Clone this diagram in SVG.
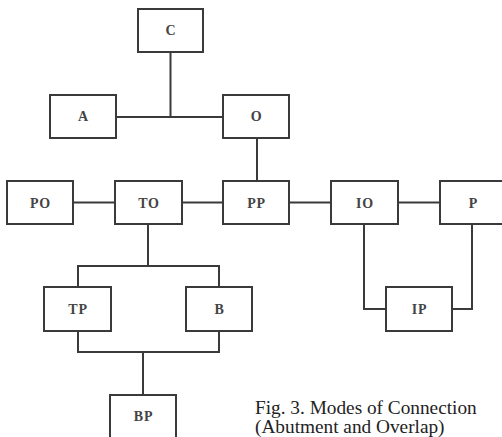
<svg xmlns="http://www.w3.org/2000/svg" width="502" height="437" viewBox="0 0 502 437">
<style>
.box{fill:#fff;stroke:#3a3a3a;stroke-width:2}
.lbl{font-family:"Liberation Serif",serif;font-size:14px;font-weight:bold;fill:#444;text-anchor:middle;letter-spacing:0.8px}
.ln{fill:none;stroke:#3a3a3a;stroke-width:2}
.cap{font-family:"Liberation Serif",serif;font-size:19.3px;fill:#222}
</style>
<rect width="502" height="437" fill="#fff"/>
<g id="connectors">
<path class="ln" d="M170.5 52V117M116 117H223"/>
<path class="ln" d="M257 138V181"/>
<path class="ln" d="M73 202.5H115M182 202.5H223M289 202.5H331M398 202.5H440"/>
<path class="ln" d="M148 224V266M78 287V266H219V287"/>
<path class="ln" d="M78 331V352H219V331M143 352V395"/>
<path class="ln" d="M364 224V309H386M472 224V309H452"/>
</g>
<g id="C"><rect class="box" x="138" y="9" width="65" height="43"/><text class="lbl" x="171" y="35">C</text></g>
<g id="A"><rect class="box" x="50" y="95" width="66" height="43"/><text class="lbl" x="83.5" y="121">A</text></g>
<g id="O"><rect class="box" x="223" y="95" width="66" height="43"/><text class="lbl" x="256.5" y="121">O</text></g>
<g id="PO"><rect class="box" x="7" y="181" width="66" height="43"/><text class="lbl" x="40.5" y="207.5">PO</text></g>
<g id="TO"><rect class="box" x="115" y="181" width="67" height="43"/><text class="lbl" x="149" y="207.5">TO</text></g>
<g id="PP"><rect class="box" x="223" y="181" width="66" height="43"/><text class="lbl" x="256.5" y="207.5">PP</text></g>
<g id="IO"><rect class="box" x="331" y="181" width="67" height="43"/><text class="lbl" x="365" y="207.5">IO</text></g>
<g id="P"><rect class="box" x="440" y="181" width="66" height="43"/><text class="lbl" x="473.5" y="207.5">P</text></g>
<g id="TP"><rect class="box" x="44" y="287" width="67" height="44"/><text class="lbl" x="78" y="313.5">TP</text></g>
<g id="B"><rect class="box" x="186" y="287" width="66" height="44"/><text class="lbl" x="219.5" y="313.5">B</text></g>
<g id="IP"><rect class="box" x="386" y="287" width="66" height="44"/><text class="lbl" x="419.5" y="313.5">IP</text></g>
<g id="BP"><rect class="box" x="110" y="395" width="66" height="43"/><text class="lbl" x="143.5" y="421">BP</text></g>
<g id="caption">
<text class="cap" x="255" y="414">Fig. 3. Modes of Connection</text>
<text class="cap" x="255" y="433">(Abutment and Overlap)</text>
</g>
</svg>
